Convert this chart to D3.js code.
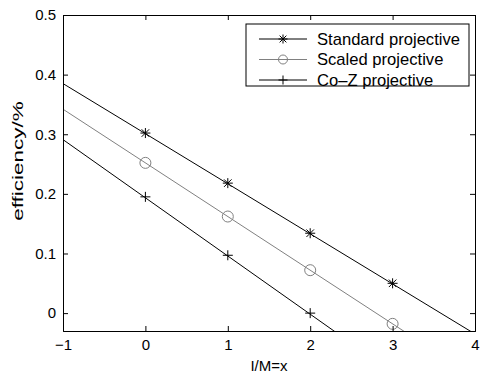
<!DOCTYPE html>
<html>
<head>
<meta charset="utf-8">
<script src="https://cdn.jsdelivr.net/npm/d3@7"></script>
<style>
  body { margin: 0; background: #fff; }
  svg text { font-family: "Liberation Sans", Arial, sans-serif; }
</style>
</head>
<body>
<div id="chart"></div>
<script>
// values
const seriesNames = ['Standard projective', 'Scaled projective', 'Co\u2013Z projective']
const markerX = [[0, 1, 2, 3], [0, 1, 2, 3], [0, 1, 2]]
const standardY = [0.302, 0.218, 0.134, 0.05]
const scaledY = [0.252, 0.162, 0.072, -0.018]
const cozY = [0.195, 0.097, 0.0]
// line extent (x = -1 .. 4), lines run past the markers and are clipped
const lineX = [-1, 4]
const standardLine = [0.385, -0.035]
const scaledLine = [0.342, -0.108]
const cozLine = [0.291, -0.197]
const xTicks = [-1, 0, 1, 2, 3, 4]
const yTicks = [0, 0.1, 0.2, 0.3, 0.4, 0.5]

const W = 480, H = 377
const margin = {top: 15, right: 5, bottom: 46, left: 63}

const svg = d3.select('#chart').append('svg')
  .attr('width', W).attr('height', H)

const x = d3.scaleLinear().domain([-1, 4]).range([margin.left, W - margin.right])
const y = d3.scaleLinear().domain([-0.03, 0.5]).range([H - margin.bottom, margin.top])

svg.append('defs').append('clipPath').attr('id', 'clip')
  .append('rect')
  .attr('x', x(-1)).attr('y', y(0.5))
  .attr('width', x(4) - x(-1)).attr('height', y(-0.03) - y(0.5))

const series = [
  {name: seriesNames[0], xs: markerX[0], ys: standardY, line: standardLine, color: '#000', marker: 'star'},
  {name: seriesNames[1], xs: markerX[1], ys: scaledY, line: scaledLine, color: '#808080', marker: 'circle'},
  {name: seriesNames[2], xs: markerX[2], ys: cozY, line: cozLine, color: '#000', marker: 'plus'}
]

function drawMarker(g, type, cx, cy, color, s) {
  if (type === 'circle') {
    g.append('circle').attr('cx', cx).attr('cy', cy).attr('r', s)
      .attr('fill', 'none').attr('stroke', color).attr('stroke-width', 1)
  } else {
    const p = d3.path()
    p.moveTo(cx - s, cy); p.lineTo(cx + s, cy)
    p.moveTo(cx, cy - s); p.lineTo(cx, cy + s)
    if (type === 'star') {
      const d = s * 0.75
      p.moveTo(cx - d, cy - d); p.lineTo(cx + d, cy + d)
      p.moveTo(cx - d, cy + d); p.lineTo(cx + d, cy - d)
    }
    g.append('path').attr('d', p.toString()).attr('stroke', color).attr('stroke-width', 1).attr('fill', 'none')
  }
}

const plot = svg.append('g').attr('clip-path', 'url(#clip)')
const line = d3.line().x(d => x(d[0])).y(d => y(d[1]))

series.forEach(s => {
  plot.append('path')
    .datum(lineX.map((v, i) => [v, s.line[i]]))
    .attr('d', line)
    .attr('fill', 'none').attr('stroke', s.color).attr('stroke-width', 1)
  s.xs.forEach((xv, i) => drawMarker(plot, s.marker, x(xv), y(s.ys[i]), s.color, s.marker == 'circle' ? 5.5 : 5))
})

// axes, matlab style box with inward ticks
const fontSize = 15
const xAxisB = d3.axisBottom(x).tickValues(xTicks).tickSize(-5).tickPadding(8).tickFormat(d => d < 0 ? '\u2212' + Math.abs(d) : d)
const xAxisT = d3.axisTop(x).tickValues(xTicks).tickSize(-5).tickFormat('')
const yAxisL = d3.axisLeft(y).tickValues(yTicks).tickSize(-5).tickPadding(7).tickFormat(d3.format('~g'))
const yAxisR = d3.axisRight(y).tickValues(yTicks).tickSize(-5).tickFormat('')

function styleAxis(g) {
  g.select('.domain').attr('stroke', '#000').attr('stroke-width', 1)
  g.selectAll('.tick line').attr('stroke', '#000')
  g.selectAll('text').attr('font-size', fontSize).attr('fill', '#000')
    .style('font-family', '"Liberation Sans", Arial, sans-serif')
}

svg.append('g').attr('transform', `translate(0,${y(-0.03)})`).call(xAxisB).call(styleAxis)
svg.append('g').attr('transform', `translate(0,${y(0.5)})`).call(xAxisT).call(styleAxis)
svg.append('g').attr('transform', `translate(${x(-1)},0)`).call(yAxisL).call(styleAxis)
svg.append('g').attr('transform', `translate(${x(4)},0)`).call(yAxisR).call(styleAxis)
svg.selectAll('.domain').attr('d', function () { return d3.select(this).attr('d').replace(/V-?5/g, 'V0').replace(/H-?5/g, 'H0') })

svg.append('text').attr('x', x(1.5)).attr('y', 371)
  .attr('text-anchor', 'middle').attr('font-size', 15).text('I/M=x')
// the y label in the picture is drawn stretched along its length
svg.append('text')
  .attr('transform', `translate(23,${y(0.255)}) rotate(-90) scale(1.5,1)`)
  .attr('text-anchor', 'middle').attr('font-size', 15).text('efficiency/%')

// legend
const lg = svg.append('g')
lg.append('rect').attr('x', 246).attr('y', 24).attr('width', 223).attr('height', 62)
  .attr('fill', '#fff').attr('stroke', '#000').attr('stroke-width', 1)
series.forEach((s, i) => {
  const ly = 39 + i * 20.5
  lg.append('line').attr('x1', 259).attr('x2', 307).attr('y1', ly).attr('y2', ly)
    .attr('stroke', s.color).attr('stroke-width', 1)
  drawMarker(lg, s.marker, 283, ly, s.color, 4.5)
  lg.append('text').attr('x', 317).attr('y', ly + 5.5).attr('font-size', 16.6).text(s.name)
})
</script>
</body>
</html>
